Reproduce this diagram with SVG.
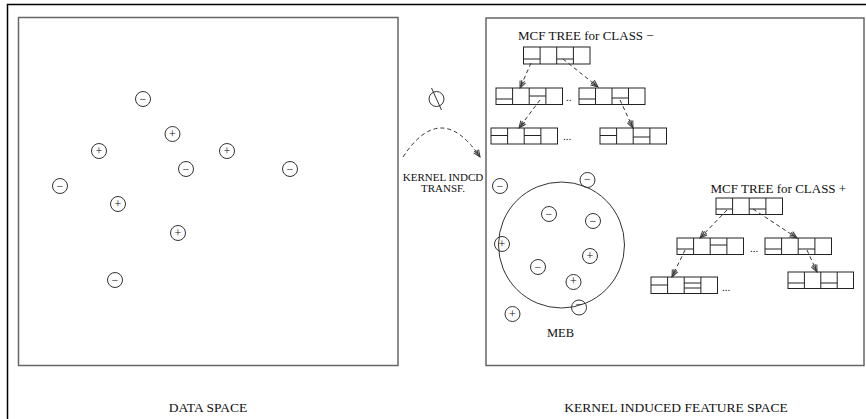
<svg xmlns="http://www.w3.org/2000/svg" width="866" height="419" viewBox="0 0 866 419">
<style>
text{font-family:"Liberation Serif","Times New Roman",serif;fill:#111}
.panel{fill:none;stroke:#666;stroke-width:1.5}
.frame{stroke:#000;stroke-width:1.5;fill:none}
.pt{fill:none;stroke:#333;stroke-width:1}
.sym{font-size:12px;text-anchor:middle}
.nb{fill:#fff;stroke:#222;stroke-width:1}
.nl{stroke:#222;stroke-width:1}
.arr{fill:none;stroke:#333;stroke-width:1;stroke-dasharray:4 3;marker-end:url(#ah)}
.lbl{font-size:13.5px;text-anchor:middle}
</style>
<defs>
<marker id="ah" markerWidth="9" markerHeight="8" refX="8" refY="4" orient="auto" markerUnits="userSpaceOnUse">
<path d="M1,1 L8,4 L1,7 M0,2.5 L5,4 L0,5.5" fill="none" stroke="#333" stroke-width="1"/>
</marker>
</defs>
<g id="frame">
<path class="frame" d="M7.5,419 L7.5,4.5 L866,4.5"/>
<rect class="panel" x="18.5" y="17.5" width="379.5" height="348"/>
<rect class="panel" x="486" y="18" width="378" height="347.5"/>
</g>
<g id="data-points">
<circle class="pt" cx="143" cy="99" r="7.5"/><text class="sym" x="143" y="103">−</text>
<circle class="pt" cx="172.5" cy="134" r="7.5"/><text class="sym" x="172.5" y="138">+</text>
<circle class="pt" cx="99" cy="151" r="7.5"/><text class="sym" x="99" y="155">+</text>
<circle class="pt" cx="186" cy="169" r="7.5"/><text class="sym" x="186" y="173">−</text>
<circle class="pt" cx="227" cy="151" r="7.5"/><text class="sym" x="227" y="155">+</text>
<circle class="pt" cx="290" cy="169" r="7.5"/><text class="sym" x="290" y="173">−</text>
<circle class="pt" cx="60" cy="186" r="7.5"/><text class="sym" x="60" y="190">−</text>
<circle class="pt" cx="118" cy="204" r="7.5"/><text class="sym" x="118" y="208">+</text>
<circle class="pt" cx="178" cy="233" r="7.5"/><text class="sym" x="178" y="237">+</text>
<circle class="pt" cx="115" cy="280" r="7.5"/><text class="sym" x="115" y="284">−</text>
</g>
<g id="transform">
<circle class="pt" cx="436.5" cy="99" r="7.5"/>
<line class="pt" x1="431.5" y1="88" x2="441.5" y2="110"/>
<path class="arr" d="M403,157 Q441,99 480,157"/>
<text x="443" y="181" font-size="11" text-anchor="middle">KERNEL INDCD</text>
<text x="443" y="191.5" font-size="11" text-anchor="middle">TRANSF.</text>
</g>
<g id="meb">
<circle class="pt" cx="561.5" cy="245" r="63"/>
<text x="560.5" y="337" font-size="12.5" text-anchor="middle">MEB</text>
<circle class="pt" cx="500" cy="186" r="7.5"/><text class="sym" x="500" y="190">−</text>
<circle class="pt" cx="587.5" cy="180" r="7.5"/><text class="sym" x="587.5" y="183">−</text>
<circle class="pt" cx="549" cy="214" r="7.5"/><text class="sym" x="549" y="218">−</text>
<circle class="pt" cx="593" cy="221" r="7.5"/><text class="sym" x="593" y="225">−</text>
<circle class="pt" cx="502" cy="244" r="7.5"/><text class="sym" x="502" y="248">+</text>
<circle class="pt" cx="590" cy="256" r="7.5"/><text class="sym" x="590" y="260">+</text>
<circle class="pt" cx="538" cy="267" r="7.5"/><text class="sym" x="538" y="271">−</text>
<circle class="pt" cx="573.5" cy="282" r="7.5"/><text class="sym" x="573.5" y="285">+</text>
<circle class="pt" cx="579" cy="307.5" r="7.5"/><text class="sym" x="579" y="308">−</text>
<circle class="pt" cx="512.5" cy="314" r="7.5"/><text class="sym" x="512.5" y="318">+</text>
</g>
<g id="tree-minus">
<text x="518" y="40" font-size="13">MCF TREE for CLASS −</text>
<g id="tm-root"><rect class="nb" x="523.5" y="47" width="66.5" height="17"/><path class="nl" d="M540.1,47 V64 M556.7,47 V64 M573.4,47 V64 M523.5,59 H540.1 M556.7,59 H573.4"/></g>
<g id="tm-l2a"><rect class="nb" x="496" y="88" width="66.5" height="16.5"/><path class="nl" d="M512.6,88 V104.5 M529.2,88 V104.5 M545.9,88 V104.5 M496,99 H512.6 M529.2,96 H545.9"/></g>
<g id="tm-l2b"><rect class="nb" x="579" y="88" width="66" height="16.5"/><path class="nl" d="M595.5,88 V104.5 M612,88 V104.5 M628.5,88 V104.5 M579,99 H595.5 M612,98 H628.5"/></g>
<g id="tm-l3a"><rect class="nb" x="491" y="128" width="66.5" height="16"/><path class="nl" d="M507.6,128 V144 M524.2,128 V144 M540.9,128 V144 M491,135.5 H507.6 M524.2,135.5 H540.9"/></g>
<g id="tm-l3b"><rect class="nb" x="600" y="128" width="66.5" height="16"/><path class="nl" d="M616.6,128 V144 M633.2,128 V144 M649.9,128 V144 M600,135.5 H616.6 M633.2,137 H649.9"/></g>
<text x="566" y="101" font-size="11">..</text>
<text x="563" y="140" font-size="11">...</text>
</g>
<g id="tree-plus">
<text x="710.5" y="193" font-size="13">MCF TREE for CLASS +</text>
<g id="tp-root"><rect class="nb" x="716" y="198" width="66.5" height="16.5"/><path class="nl" d="M732.6,198 V214.5 M749.2,198 V214.5 M765.9,198 V214.5 M716,209 H732.6 M749.2,209 H765.9"/></g>
<g id="tp-l2a"><rect class="nb" x="677" y="238" width="66.5" height="16.5"/><path class="nl" d="M693.6,238 V254.5 M710.2,238 V254.5 M726.9,238 V254.5 M677,249 H693.6 M710.2,245 H726.9"/></g>
<g id="tp-l2b"><rect class="nb" x="765" y="238" width="66.5" height="16.5"/><path class="nl" d="M781.6,238 V254.5 M798.2,238 V254.5 M814.9,238 V254.5 M765,249 H781.6 M798.2,249 H814.9"/></g>
<g id="tp-l3a"><rect class="nb" x="651" y="277" width="66.5" height="16.5"/><path class="nl" d="M667.6,277 V293.5 M684.2,277 V293.5 M700.9,277 V293.5 M651,285 H667.6 M684.2,283 H700.9 M684.2,288 H700.9"/></g>
<g id="tp-l3b"><rect class="nb" x="788" y="272" width="65.5" height="16.5"/><path class="nl" d="M804.4,272 V288.5 M820.8,272 V288.5 M837.2,272 V288.5 M788,283 H804.4 M820.8,283 H837.2"/></g>
<text x="750" y="252" font-size="11">...</text>
<text x="722" y="291" font-size="11">...</text>
</g>
<g id="connectors">
<path class="arr" d="M531,63 L520,88"/>
<path class="arr" d="M563,59 L598,87"/>
<path class="arr" d="M540,100 L519,128"/>
<path class="arr" d="M620,100 L633,128"/>
<path class="arr" d="M727,210 L700,238"/>
<path class="arr" d="M753,209 L797,238"/>
<path class="arr" d="M685,250 L672,277"/>
<path class="arr" d="M807,250 L817,272"/>
</g>
<g id="labels">
<text class="lbl" x="208" y="412">DATA SPACE</text>
<text class="lbl" x="676" y="412">KERNEL INDUCED FEATURE SPACE</text>
</g>
</svg>
